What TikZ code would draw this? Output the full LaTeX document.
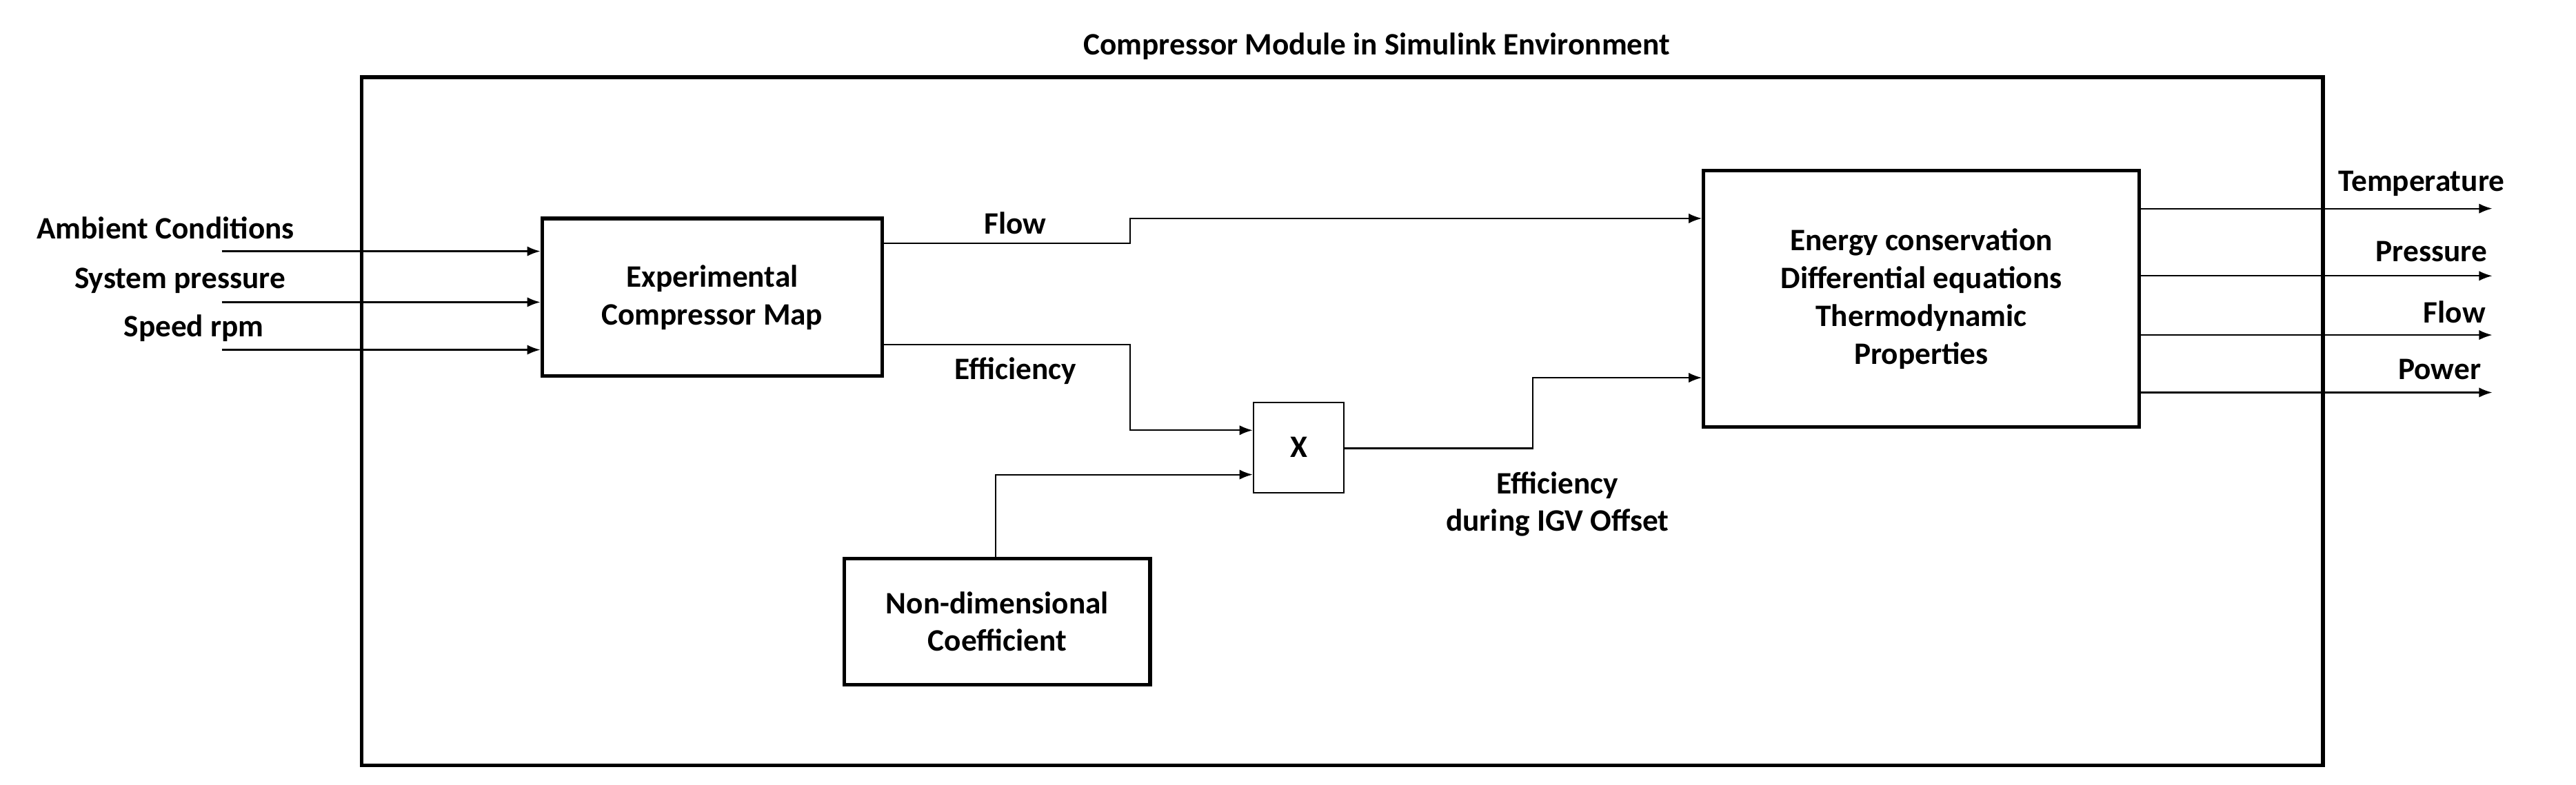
\documentclass[tikz,border=0pt]{standalone}
\usepackage{fontspec}
\setmainfont{Carlito}
\usetikzlibrary{arrows.meta}
\begin{document}
\begin{tikzpicture}[x=0.5pt,y=-0.5pt,
  lbl/.style={font=\fontsize{9.5}{11.5}\selectfont\bfseries, inner sep=0pt, align=center},
  blk/.style={draw, line width=1.1pt, lbl},
  wire/.style={line width=0.45pt, -{Latex[length=4pt,width=3pt]}}]
\useasboundingbox (0,0) rectangle (1568,478);
\node[lbl] (title) at (838,28) {Compressor Module in Simulink Environment};
\node[draw, line width=1.1pt, minimum width=597pt, minimum height=209.5pt] (outer) at (817,256.5) {};
\node[blk, minimum width=103.5pt, minimum height=48pt] (map) at (433.5,181) {Experimental\\Compressor Map};
\node[blk, minimum width=132.5pt, minimum height=78pt] (en) at (1169.5,182) {Energy conservation\\Differential equations\\Thermodynamic\\Properties};
\node[draw, line width=0.5pt, lbl, minimum width=27.5pt, minimum height=27.5pt] (x) at (790.5,272.5) {X};
\node[blk, minimum width=93pt, minimum height=38.5pt] (nd) at (607,378.5) {Non-dimensional\\Coefficient};
\coordinate (i1) at (135,153); \coordinate (i2) at (135,184); \coordinate (i3) at (135,213);
\draw[wire] (i1) -- (i1 -| map.west);
\draw[wire] (i2) -- (i2 -| map.west);
\draw[wire] (i3) -- (i3 -| map.west);
\node[lbl, anchor=west] (l1) at (22,139) {Ambient Conditions};
\node[lbl, anchor=west] (l2) at (45,171) {System pressure};
\node[lbl, anchor=west] (l3) at (75,200) {Speed rpm};
\draw[wire] (map.east |- 0,148) -- (688,148) -- (688,133) -- (en.west |- 0,133);
\node[lbl] (fl) at (618,136) {Flow};
\draw[wire] (map.east |- 0,210) -- (688,210) -- (688,262) -- (x.west |- 0,262);
\node[lbl] (ef) at (618,226) {Efficiency};
\draw[wire] (nd.north -| 606,0) -- (606,289) -- (x.west |- 0,289);
\draw[wire] (x.east |- 0,273) -- (933,273) -- (933,230) -- (en.west |- 0,230);
\node[lbl] (eg) at (948,307) {Efficiency\\during IGV Offset};
\coordinate (o1) at (1517,127); \coordinate (o2) at (1517,168);
\coordinate (o3) at (1517,204); \coordinate (o4) at (1517,239);
\draw[wire] (en.east |- o1) -- (o1);
\draw[wire] (en.east |- o2) -- (o2);
\draw[wire] (en.east |- o3) -- (o3);
\draw[wire] (en.east |- o4) -- (o4);
\node[lbl] (t1) at (1474,112) {Temperature};
\node[lbl] (t2) at (1480,153) {Pressure};
\node[lbl] (t3) at (1494,190) {Flow};
\node[lbl] (t4) at (1485,225) {Power};
\end{tikzpicture}
\end{document}
